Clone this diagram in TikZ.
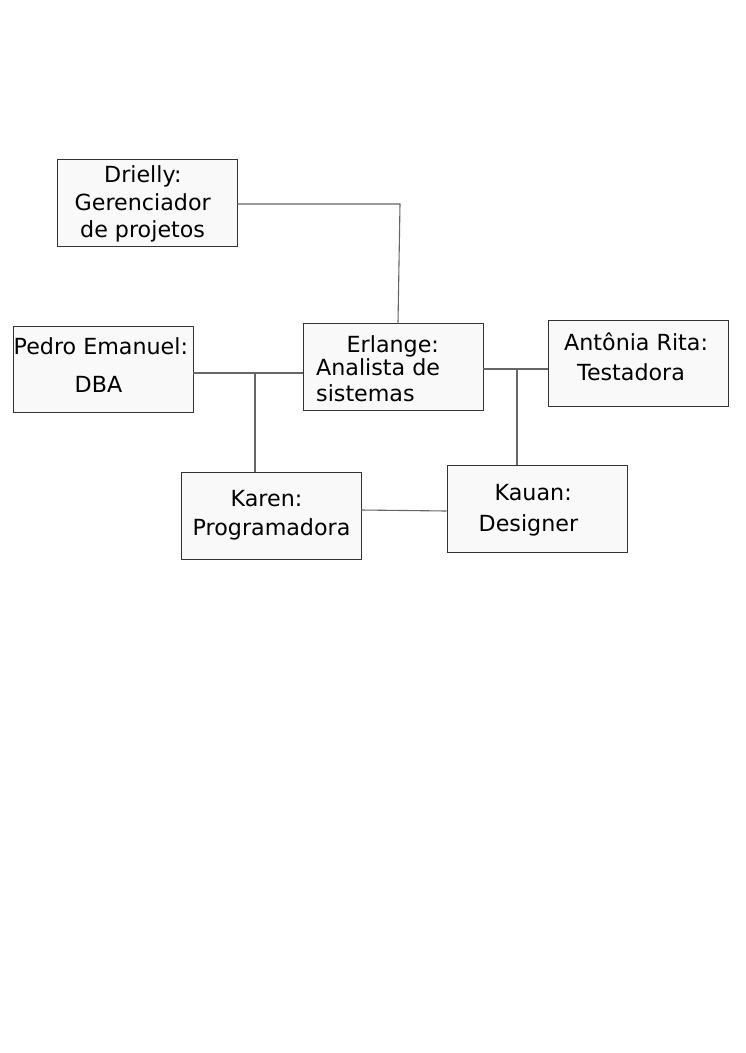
\documentclass[tikz,border=0pt]{standalone}
\usepackage{fontspec}
\setmainfont{DejaVu Sans}
\definecolor{boxfill}{HTML}{F9F9F9}
\definecolor{boxline}{HTML}{333333}
\definecolor{wire}{HTML}{666666}
\begin{document}
\begin{tikzpicture}[x=1pt,y=-1pt,
  rolebox/.style={draw=boxline,fill=boxfill,line width=0.9pt,inner sep=0pt},
  txt/.style={anchor=base west,inner sep=0pt,font=\fontsize{22.2}{26}\selectfont},
  wireline/.style={draw=wire,line width=1.1pt}]
\useasboundingbox (0,0) rectangle (745,1053);
% boxes
\node[rolebox,minimum width=180pt,minimum height=87pt] (dri) at (147,202.5) {};
\node[rolebox,minimum width=180pt,minimum height=86pt] (ped) at (103,369) {};
\node[rolebox,minimum width=180pt,minimum height=87pt] (erl) at (393,366.5) {};
\node[rolebox,minimum width=180pt,minimum height=86pt] (ant) at (638,363) {};
\node[rolebox,minimum width=180pt,minimum height=87pt] (kar) at (271,515.5) {};
\node[rolebox,minimum width=180pt,minimum height=87pt] (kau) at (537,508.5) {};
% connectors
\coordinate (c1) at (400,204);
\coordinate (jl) at (255,373);
\coordinate (jr) at (517,369);
\draw[wireline] (dri.east |- c1) -- (c1) -- (398,0 |- erl.north);
\draw[wireline] (ped.east |- jl) -- (erl.west |- jl);
\draw[wireline] (jl) -- (jl |- kar.north);
\draw[wireline] (erl.east |- jr) -- (ant.west |- jr);
\draw[wireline] (jr) -- (jr |- kau.north);
\draw[wireline] (kar.east |- 0,510) -- (kau.west |- 0,511);
% texts
\node[txt] (t1) at (104,182) {Drielly:};
\node[txt] (t2) at (74.5,210) {Gerenciador};
\node[txt] (t3) at (80,237) {de projetos};
\node[txt] (t4) at (13.5,354) {Pedro Emanuel:};
\node[txt] (t5) at (74.5,392) {DBA};
\node[txt] (t6) at (346.5,352) {Erlange:};
\node[txt] (t7) at (316,375) {Analista de};
\node[txt] (t8) at (316,401.5) {sistemas};
\node[txt] (t9) at (564,350) {Antônia Rita:};
\node[txt] (t10) at (577,380.5) {Testadora};
\node[txt] (t11) at (230.5,506) {Karen:};
\node[txt] (t12) at (192.5,535) {Programadora};
\node[txt] (t13) at (494.5,500.5) {Kauan:};
\node[txt] (t14) at (478.5,531.5) {Designer};
\end{tikzpicture}
\end{document}
